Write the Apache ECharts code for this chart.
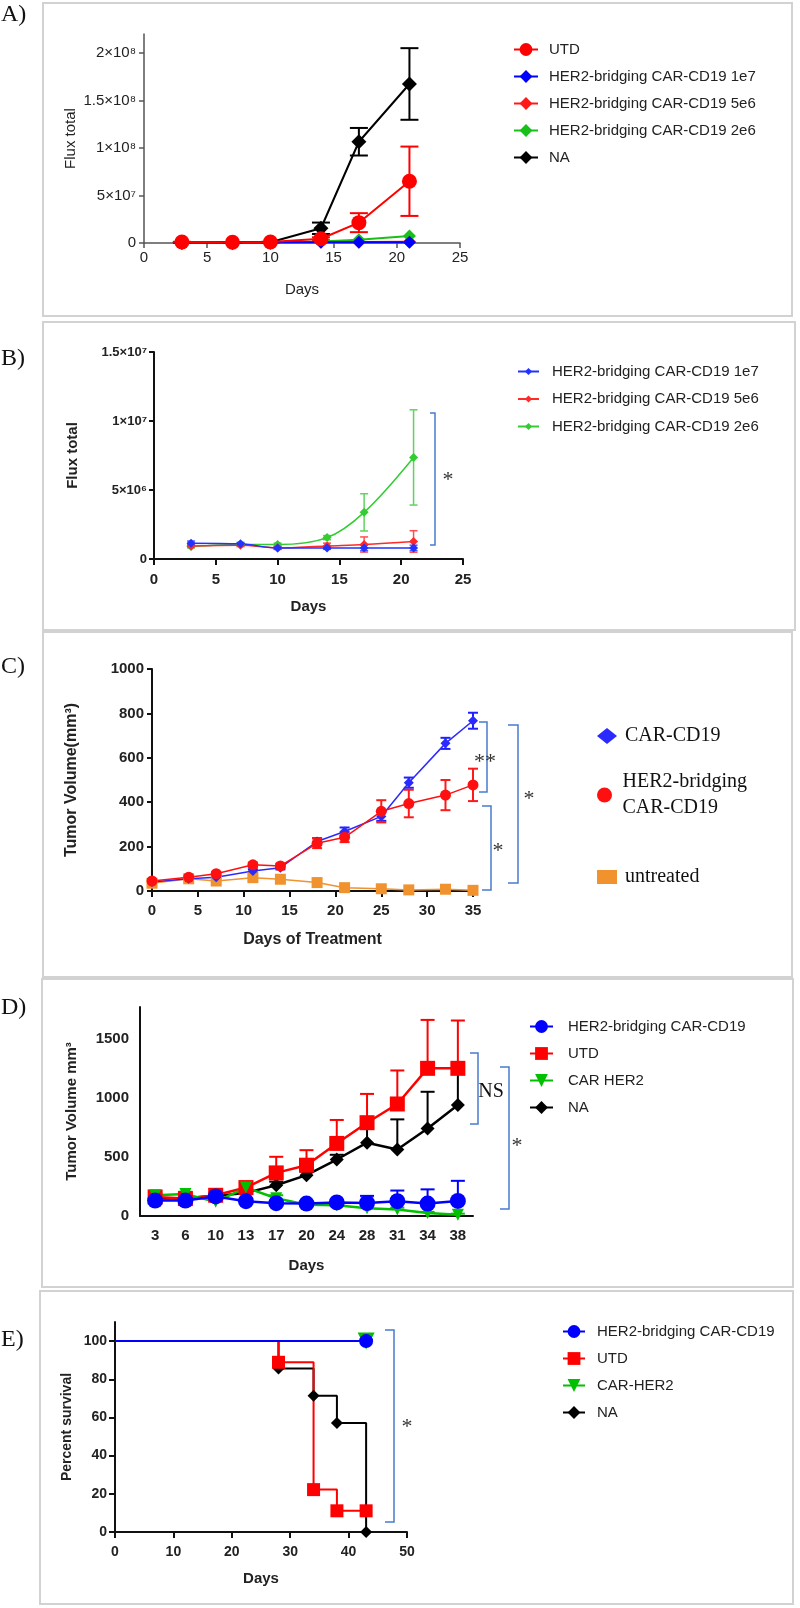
<!DOCTYPE html>
<html>
<head>
<meta charset="utf-8">
<script src="https://cdn.jsdelivr.net/npm/echarts@6/dist/echarts.min.js"></script>
<style>
html, body { margin: 0; background: #fff; }
#container { width: 800px; height: 1608px; }
</style>
</head>
<body>
<div id="container"></div>
<script>
// A) total flux, all groups
var daysA = [3, 7, 10, 14, 17, 21];
var utdA = [1.0e6, 0.8e6, 1.0e6, 4.5e6, 21.4e6, 65e6];
var utdAErr = [0.3e6, 0.2e6, 0.3e6, 1.5e6, 10e6, 36.5e6];
var naA = [0.5e6, 0.5e6, 0.8e6, 15.5e6, 106.6e6, 167.4e6];
var naAErr = [0.2e6, 0.2e6, 0.3e6, 6e6, 14.5e6, 37.7e6];
var aYTickVals = [0, 5e7, 1e8, 1.5e8, 2e8];
var aYTickText = ['0', '5×10⁷', '1×10⁸', '1.5×10⁸', '2×10⁸'];

// B) CAR doses (same groups also drawn in A)
var car1e7 = [1.15e6, 1.1e6, 0.8e6, 0.8e6, 0.8e6, 0.8e6];
var car1e7Err = [0.15e6, 0.1e6, 0.1e6, 0.1e6, 0.2e6, 0.2e6];
var car5e6 = [0.95e6, 1.0e6, 0.8e6, 0.95e6, 1.05e6, 1.27e6];
var car5e6Err = [0.1e6, 0.1e6, 0.1e6, 0.2e6, 0.55e6, 0.78e6];
var car2e6 = [0.9e6, 1.05e6, 1.05e6, 1.55e6, 3.38e6, 7.36e6];
var car2e6Err = [0.1e6, 0.1e6, 0.1e6, 0.15e6, 1.35e6, 3.45e6];
var bYTickVals = [0, 5e6, 1e7, 1.5e7];
var bYTickText = ['0', '5×10⁶', '1×10⁷', '1.5×10⁷'];

// C) tumor volume, days of treatment
var daysC = [0, 4, 7, 11, 14, 18, 21, 25, 28, 32, 35];
var cd19C = [40, 55, 62, 90, 105, 223, 268, 336, 488, 665, 767];
var cd19CErr = [5, 5, 5, 8, 8, 15, 18, 20, 23, 25, 36];
var her2C = [45, 62, 78, 118, 113, 215, 242, 359, 394, 432, 478];
var her2CErr = [6, 6, 8, 10, 10, 22, 22, 50, 62, 68, 73];
var untreatedC = [35, 55, 45, 60, 53, 38, 15, 10, 5, 8, 3];
var untreatedCErr = [3, 3, 3, 5, 5, 5, 3, 3, 2, 2, 2];

// D) tumor volume by group
var daysD = ['3', '6', '10', '13', '17', '20', '24', '28', '31', '34', '38'];
var her2D = [130, 130, 165, 125, 108, 105, 115, 110, 125, 105, 127];
var her2DErr = [20, 20, 20, 20, 20, 15, 20, 60, 90, 120, 170];
var utdD = [161, 147, 175, 240, 364, 429, 613, 788, 946, 1247, 1247];
var utdDErr = [25, 40, 25, 40, 136, 127, 198, 243, 283, 409, 404];
var carHer2D = [175, 185, 120, 240, 150, 95, 90, 65, 55, 25, 10];
var carHer2DErr = [20, 20, 15, 30, 25, 15, 15, 15, 15, 10, 10];
var naD = [150, 150, 170, 195, 260, 345, 477, 619, 562, 739, 937];
var naDErr = [15, 15, 15, 20, 30, 30, 40, 140, 254, 310, 310];
var dYTickVals = [0, 500, 1000, 1500];

// E) survival
var utdEDays = [0, 28, 34, 38, 43];
var utdE = [100, 88.9, 22.2, 11.1, 11.1];
var naEDays = [0, 28, 34, 38, 43];
var naE = [100, 85.7, 71.4, 57.1, 0];
var her2EDays = [0, 43];
var her2E = [100, 100];
var carHer2EDays = [0, 43];
var carHer2E = [100, 100];
var eYTickVals = [0, 20, 40, 60, 80, 100];

var sans = '"Liberation Sans", Arial, Helvetica, sans-serif';
var serif = '"Liberation Serif", "Times New Roman", serif';

function pts(xs, ys) {
    return xs.map(function (x, i) { return [x, ys[i]]; });
}
function errPts(xs, ys, es) {
    return xs.map(function (x, i) { return [x, ys[i], es[i]]; });
}
// km curve: no symbol on the start point
function kmPts(xs, ys) {
    return xs.map(function (x, i) {
        return i === 0 ? { value: [x, ys[i]], symbol: 'none' } : [x, ys[i]];
    });
}
function idx(arr) { return arr.map(function (d, i) { return i; }); }
function plain(v) { return String(v); }

function line(name, g, data, color, symbol, size, width, extra) {
    var s = {
        type: 'line', name: name, xAxisIndex: g, yAxisIndex: g,
        data: data, symbol: symbol, symbolSize: size, showSymbol: true,
        color: color, itemStyle: { color: color },
        lineStyle: { color: color, width: width },
        emphasis: { disabled: true }, silent: true, z: 3
    };
    return Object.assign(s, extra || {});
}

function errBars(g, data, color, both, cap, width) {
    return {
        type: 'custom', xAxisIndex: g, yAxisIndex: g, data: data, z: 2, silent: true,
        renderItem: function (params, api) {
            var x = api.value(0), v = api.value(1), e = api.value(2);
            var hi = api.coord([x, v + e]);
            var lo = api.coord([x, both ? v - e : v]);
            var st = { stroke: color, lineWidth: width };
            var kids = [
                { type: 'line', shape: { x1: hi[0], y1: hi[1], x2: lo[0], y2: lo[1] }, style: st },
                { type: 'line', shape: { x1: hi[0] - cap, y1: hi[1], x2: hi[0] + cap, y2: hi[1] }, style: st }
            ];
            if (both) {
                kids.push({ type: 'line', shape: { x1: lo[0] - cap, y1: lo[1], x2: lo[0] + cap, y2: lo[1] }, style: st });
            }
            return { type: 'group', children: kids };
        }
    };
}

function axisStyle(color, width) {
    return { show: true, onZero: false, lineStyle: { color: color, width: width } };
}
function labelStyle(bold, size, margin) {
    return { fontFamily: sans, fontWeight: bold ? 'bold' : 'normal', fontSize: size, color: '#222', margin: margin, formatter: plain };
}
function nameStyle(bold, size) {
    return { fontFamily: sans, fontWeight: bold ? 'bold' : 'normal', fontSize: size, color: '#222' };
}
function stripName(n) { return n.split('|')[1]; }

var dom = document.getElementById('container');
var myChart = echarts.init(dom, null, { renderer: 'canvas' });

var option = {
    animation: false,
    backgroundColor: '#fff',
    grid: [
        { left: 144, top: 34, width: 316, height: 209, outerBoundsMode: 'none' },
        { left: 154, top: 352, width: 309, height: 207, outerBoundsMode: 'none' },
        { left: 152, top: 669, width: 321, height: 222, outerBoundsMode: 'none' },
        { left: 140, top: 1007, width: 333, height: 209, outerBoundsMode: 'none' },
        { left: 115, top: 1322, width: 292, height: 210, outerBoundsMode: 'none' }
    ],
    xAxis: [
        {
            gridIndex: 0, type: 'value', min: 0, max: 25, interval: 5, splitLine: { show: false },
            axisLine: axisStyle('#555', 1.5), axisTick: { length: 5, lineStyle: { color: '#555', width: 1.5 } },
            axisLabel: labelStyle(false, 15, 7),
            name: 'Days', nameLocation: 'middle', nameGap: 39, nameTextStyle: nameStyle(false, 15)
        },
        {
            gridIndex: 1, type: 'value', min: 0, max: 25, interval: 5, splitLine: { show: false },
            axisLine: axisStyle('#111', 2), axisTick: { length: 6, lineStyle: { color: '#111', width: 2 } },
            axisLabel: labelStyle(true, 15, 13),
            name: 'Days', nameLocation: 'middle', nameGap: 40, nameTextStyle: nameStyle(true, 15)
        },
        {
            gridIndex: 2, type: 'value', min: 0, max: 35, interval: 5, splitLine: { show: false },
            axisLine: axisStyle('#111', 2), axisTick: { length: 6, lineStyle: { color: '#111', width: 2 } },
            axisLabel: labelStyle(true, 15, 12),
            name: 'Days of Treatment', nameLocation: 'middle', nameGap: 41, nameTextStyle: nameStyle(true, 16)
        },
        {
            gridIndex: 3, type: 'category', data: daysD, boundaryGap: true, splitLine: { show: false },
            axisLine: axisStyle('#111', 2), axisTick: { alignWithLabel: true, length: 6, lineStyle: { color: '#111', width: 2 } },
            axisLabel: labelStyle(true, 15, 12),
            name: 'Days', nameLocation: 'middle', nameGap: 42, nameTextStyle: nameStyle(true, 15)
        },
        {
            gridIndex: 4, type: 'value', min: 0, max: 50, interval: 10, splitLine: { show: false },
            axisLine: axisStyle('#111', 2), axisTick: { length: 6, lineStyle: { color: '#111', width: 2 } },
            axisLabel: labelStyle(true, 14, 13),
            name: 'Days', nameLocation: 'middle', nameGap: 39, nameTextStyle: nameStyle(true, 15)
        }
    ],
    yAxis: [
        {
            gridIndex: 0, type: 'value', min: 0, max: 2.2e8, splitLine: { show: false },
            axisLine: axisStyle('#555', 1.5),
            axisTick: { length: 5, customValues: aYTickVals, lineStyle: { color: '#555', width: 1.5 } },
            axisLabel: Object.assign(labelStyle(false, 15, 8), {
                customValues: aYTickVals,
                formatter: function (v) { return aYTickText[aYTickVals.indexOf(v)]; }
            }),
            name: 'Flux total', nameLocation: 'middle', nameGap: 66, nameTextStyle: nameStyle(false, 15)
        },
        {
            gridIndex: 1, type: 'value', min: 0, max: 1.5e7, interval: 5e6, splitLine: { show: false },
            axisLine: axisStyle('#111', 2), axisTick: { length: 5, lineStyle: { color: '#111', width: 2 } },
            axisLabel: Object.assign(labelStyle(true, 13, 7), {
                formatter: function (v) { return bYTickText[bYTickVals.indexOf(v)]; }
            }),
            name: 'Flux total', nameLocation: 'middle', nameGap: 74, nameTextStyle: nameStyle(true, 15)
        },
        {
            gridIndex: 2, type: 'value', min: 0, max: 1000, interval: 200, splitLine: { show: false },
            axisLine: axisStyle('#111', 2), axisTick: { length: 5, lineStyle: { color: '#111', width: 2 } },
            axisLabel: labelStyle(true, 15, 8),
            name: 'Tumor Volume(mm³)', nameLocation: 'middle', nameGap: 72, nameTextStyle: nameStyle(true, 16)
        },
        {
            gridIndex: 3, type: 'value', min: 0, max: 1765, splitLine: { show: false },
            axisLine: axisStyle('#111', 2),
            axisTick: { length: 6, customValues: dYTickVals, lineStyle: { color: '#111', width: 2 } },
            axisLabel: Object.assign(labelStyle(true, 15, 11), { customValues: dYTickVals }),
            name: 'Tumor Volume mm³', nameLocation: 'middle', nameGap: 61, nameTextStyle: nameStyle(true, 15)
        },
        {
            gridIndex: 4, type: 'value', min: 0, max: 110, splitLine: { show: false },
            axisLine: axisStyle('#111', 2),
            axisTick: { length: 6, customValues: eYTickVals, lineStyle: { color: '#111', width: 2 } },
            axisLabel: Object.assign(labelStyle(true, 14, 8), { customValues: eYTickVals }),
            name: 'Percent survival', nameLocation: 'middle', nameGap: 41, nameTextStyle: nameStyle(true, 14)
        }
    ],
    legend: [
        {
            left: 508, top: 37, orient: 'vertical', selectedMode: false,
            itemWidth: 24, itemHeight: 16, itemGap: 12, formatter: stripName,
            textStyle: { fontFamily: sans, fontSize: 15, color: '#222', padding: [0, 0, 0, 6] },
            data: ['A|UTD', 'A|HER2-bridging CAR-CD19 1e7', 'A|HER2-bridging CAR-CD19 5e6', 'A|HER2-bridging CAR-CD19 2e6', 'A|NA']
        },
        {
            left: 512, top: 359, orient: 'vertical', selectedMode: false,
            itemWidth: 21, itemHeight: 9, itemGap: 12.5, formatter: stripName,
            textStyle: { fontFamily: sans, fontSize: 15, color: '#222', padding: [0, 0, 0, 8] },
            data: ['B|HER2-bridging CAR-CD19 1e7', 'B|HER2-bridging CAR-CD19 5e6', 'B|HER2-bridging CAR-CD19 2e6']
        },
        {
            left: 592, top: 721, selectedMode: false, icon: 'diamond',
            itemWidth: 20, itemHeight: 16, formatter: stripName,
            textStyle: { fontFamily: serif, fontSize: 20, color: '#111', padding: [0, 0, 0, 3] },
            data: ['C|CAR-CD19']
        },
        {
            left: 592, top: 751, selectedMode: false, icon: 'circle',
            itemWidth: 20, itemHeight: 15, formatter: stripName,
            textStyle: { fontFamily: serif, fontSize: 20, lineHeight: 26, color: '#111', padding: [26, 0, 0, 3] },
            data: ['C|HER2-bridging\nCAR-CD19']
        },
        {
            left: 592, top: 862, selectedMode: false, icon: 'rect',
            itemWidth: 20, itemHeight: 14, formatter: stripName,
            textStyle: { fontFamily: serif, fontSize: 20, color: '#111', padding: [0, 0, 0, 3] },
            data: ['C|untreated']
        },
        {
            left: 524, top: 1014, orient: 'vertical', selectedMode: false,
            itemWidth: 23, itemHeight: 16, itemGap: 12, formatter: stripName,
            textStyle: { fontFamily: sans, fontSize: 15, color: '#222', padding: [0, 0, 0, 10] },
            data: ['D|HER2-bridging CAR-CD19', 'D|UTD', 'D|CAR HER2', 'D|NA']
        },
        {
            left: 557, top: 1319, orient: 'vertical', selectedMode: false,
            itemWidth: 22, itemHeight: 16, itemGap: 12, formatter: stripName,
            textStyle: { fontFamily: sans, fontSize: 15, color: '#222', padding: [0, 0, 0, 7] },
            data: ['E|HER2-bridging CAR-CD19', 'E|UTD', 'E|CAR-HER2', 'E|NA']
        }
    ],
    series: [
        // A
        errBars(0, errPts(daysA, naA, naAErr), '#000', true, 9, 2),
        errBars(0, errPts(daysA, utdA, utdAErr), '#ff0000', true, 9, 2),
        line('A|HER2-bridging CAR-CD19 5e6', 0, pts(daysA, car5e6), '#ff1a1a', 'diamond', 13, 2),
        line('A|HER2-bridging CAR-CD19 2e6', 0, pts(daysA, car2e6), '#19c019', 'diamond', 13, 2),
        line('A|HER2-bridging CAR-CD19 1e7', 0, pts(daysA, car1e7), '#0000ff', 'diamond', 13, 2),
        line('A|NA', 0, pts(daysA, naA), '#000', 'diamond', 15, 2),
        line('A|UTD', 0, pts(daysA, utdA), '#ff0000', 'circle', 15, 2),
        // B
        errBars(1, errPts(daysA, car2e6, car2e6Err), '#5fd35f', true, 4, 1.5),
        errBars(1, errPts(daysA, car5e6, car5e6Err), '#ff5050', true, 4, 1.5),
        errBars(1, errPts(daysA, car1e7, car1e7Err), '#4d5cff', true, 4, 1.5),
        line('B|HER2-bridging CAR-CD19 2e6', 1, pts(daysA, car2e6), '#33cc33', 'diamond', 9, 1.5, { smooth: 0.35 }),
        line('B|HER2-bridging CAR-CD19 5e6', 1, pts(daysA, car5e6), '#ff2a2a', 'diamond', 9, 1.5, { smooth: 0.35 }),
        line('B|HER2-bridging CAR-CD19 1e7', 1, pts(daysA, car1e7), '#2233ff', 'diamond', 9, 1.5, { smooth: 0.35 }),
        // C
        errBars(2, errPts(daysC, untreatedC, untreatedCErr), '#f0922e', true, 4, 1.5),
        errBars(2, errPts(daysC, cd19C, cd19CErr), '#2020ff', true, 5, 2),
        errBars(2, errPts(daysC, her2C, her2CErr), '#ff1a1a', true, 5, 2),
        line('C|untreated', 2, pts(daysC, untreatedC), '#f0922e', 'rect', 11, 1.5),
        line('C|CAR-CD19', 2, pts(daysC, cd19C), '#2a2aff', 'diamond', 10, 1.5),
        line('C|HER2-bridging\nCAR-CD19', 2, pts(daysC, her2C), '#ff1010', 'circle', 11, 1.5),
        // D
        errBars(3, errPts(idx(daysD), naD, naDErr), '#000', false, 7, 2),
        errBars(3, errPts(idx(daysD), utdD, utdDErr), '#ff0000', false, 7, 2),
        errBars(3, errPts(idx(daysD), carHer2D, carHer2DErr), '#00c000', false, 7, 2),
        errBars(3, errPts(idx(daysD), her2D, her2DErr), '#0000ff', false, 7, 2),
        line('D|NA', 3, naD, '#000', 'diamond', 14, 2.5),
        line('D|UTD', 3, utdD, '#ff0000', 'rect', 15, 2.5),
        line('D|CAR HER2', 3, carHer2D, '#00c000', 'triangle', 12, 2.5, { symbolRotate: 180 }),
        line('D|HER2-bridging CAR-CD19', 3, her2D, '#0000ff', 'circle', 16, 2.5),
        // E
        line('E|NA', 4, kmPts(naEDays, naE), '#000', 'diamond', 12, 2, { step: 'end' }),
        line('E|UTD', 4, kmPts(utdEDays, utdE), '#ff0000', 'rect', 13, 2, { step: 'end' }),
        line('E|CAR-HER2', 4, kmPts(carHer2EDays, carHer2E), '#00c000', 'triangle', 17, 2, { step: 'end', symbolRotate: 180 }),
        line('E|HER2-bridging CAR-CD19', 4, kmPts(her2EDays, her2E), '#0000ff', 'circle', 14, 2, { step: 'end' })
    ],
    graphic: [
        // panel frames
        { type: 'rect', silent: true, shape: { x: 43, y: 3, width: 749, height: 313 }, style: { fill: 'none', stroke: '#d2d2d2', lineWidth: 2 } },
        { type: 'rect', silent: true, shape: { x: 43, y: 322, width: 752, height: 308 }, style: { fill: 'none', stroke: '#d2d2d2', lineWidth: 2 } },
        { type: 'rect', silent: true, shape: { x: 43, y: 632, width: 749, height: 345 }, style: { fill: 'none', stroke: '#d2d2d2', lineWidth: 2 } },
        { type: 'rect', silent: true, shape: { x: 42, y: 979, width: 751, height: 308 }, style: { fill: 'none', stroke: '#d2d2d2', lineWidth: 2 } },
        { type: 'rect', silent: true, shape: { x: 40, y: 1291, width: 753, height: 313 }, style: { fill: 'none', stroke: '#d2d2d2', lineWidth: 2 } },
        // panel letters
        { type: 'text', silent: true, x: 1, y: 15, style: { text: 'A)', font: '24px ' + serif, fill: '#111', verticalAlign: 'middle' } },
        { type: 'text', silent: true, x: 1, y: 359, style: { text: 'B)', font: '24px ' + serif, fill: '#111', verticalAlign: 'middle' } },
        { type: 'text', silent: true, x: 1, y: 667, style: { text: 'C)', font: '24px ' + serif, fill: '#111', verticalAlign: 'middle' } },
        { type: 'text', silent: true, x: 1, y: 1008, style: { text: 'D)', font: '24px ' + serif, fill: '#111', verticalAlign: 'middle' } },
        { type: 'text', silent: true, x: 1, y: 1340, style: { text: 'E)', font: '24px ' + serif, fill: '#111', verticalAlign: 'middle' } },
        // significance brackets
        { type: 'polyline', silent: true, shape: { points: [[430, 413], [435, 413], [435, 545], [430, 545]] }, style: { fill: 'none', stroke: '#4a7bd0', lineWidth: 1.5 } },
        { type: 'polyline', silent: true, shape: { points: [[479, 722], [487, 722], [487, 792], [479, 792]] }, style: { fill: 'none', stroke: '#4a7bd0', lineWidth: 1.5 } },
        { type: 'polyline', silent: true, shape: { points: [[482, 806], [491, 806], [491, 890], [482, 890]] }, style: { fill: 'none', stroke: '#4a7bd0', lineWidth: 1.5 } },
        { type: 'polyline', silent: true, shape: { points: [[508, 725], [518, 725], [518, 883], [508, 883]] }, style: { fill: 'none', stroke: '#4a7bd0', lineWidth: 1.5 } },
        { type: 'polyline', silent: true, shape: { points: [[470, 1053], [478, 1053], [478, 1124], [470, 1124]] }, style: { fill: 'none', stroke: '#4a7bd0', lineWidth: 1.5 } },
        { type: 'polyline', silent: true, shape: { points: [[500, 1067], [509, 1067], [509, 1209], [500, 1209]] }, style: { fill: 'none', stroke: '#4a7bd0', lineWidth: 1.5 } },
        { type: 'polyline', silent: true, shape: { points: [[385, 1330], [394, 1330], [394, 1522], [385, 1522]] }, style: { fill: 'none', stroke: '#4a7bd0', lineWidth: 1.5 } },
        { type: 'text', silent: true, x: 448, y: 480, style: { text: '*', font: '22px ' + serif, fill: '#333', align: 'center', verticalAlign: 'middle' } },
        { type: 'text', silent: true, x: 485, y: 762, style: { text: '**', font: '22px ' + serif, fill: '#333', align: 'center', verticalAlign: 'middle' } },
        { type: 'text', silent: true, x: 498, y: 851, style: { text: '*', font: '22px ' + serif, fill: '#333', align: 'center', verticalAlign: 'middle' } },
        { type: 'text', silent: true, x: 529, y: 799, style: { text: '*', font: '22px ' + serif, fill: '#333', align: 'center', verticalAlign: 'middle' } },
        { type: 'text', silent: true, x: 491, y: 1092, style: { text: 'NS', font: '20px ' + serif, fill: '#111', align: 'center', verticalAlign: 'middle' } },
        { type: 'text', silent: true, x: 517, y: 1146, style: { text: '*', font: '22px ' + serif, fill: '#333', align: 'center', verticalAlign: 'middle' } },
        { type: 'text', silent: true, x: 407, y: 1427, style: { text: '*', font: '22px ' + serif, fill: '#333', align: 'center', verticalAlign: 'middle' } }
    ]
};

myChart.setOption(option);
window.addEventListener('resize', myChart.resize);
</script>
</body>
</html>
